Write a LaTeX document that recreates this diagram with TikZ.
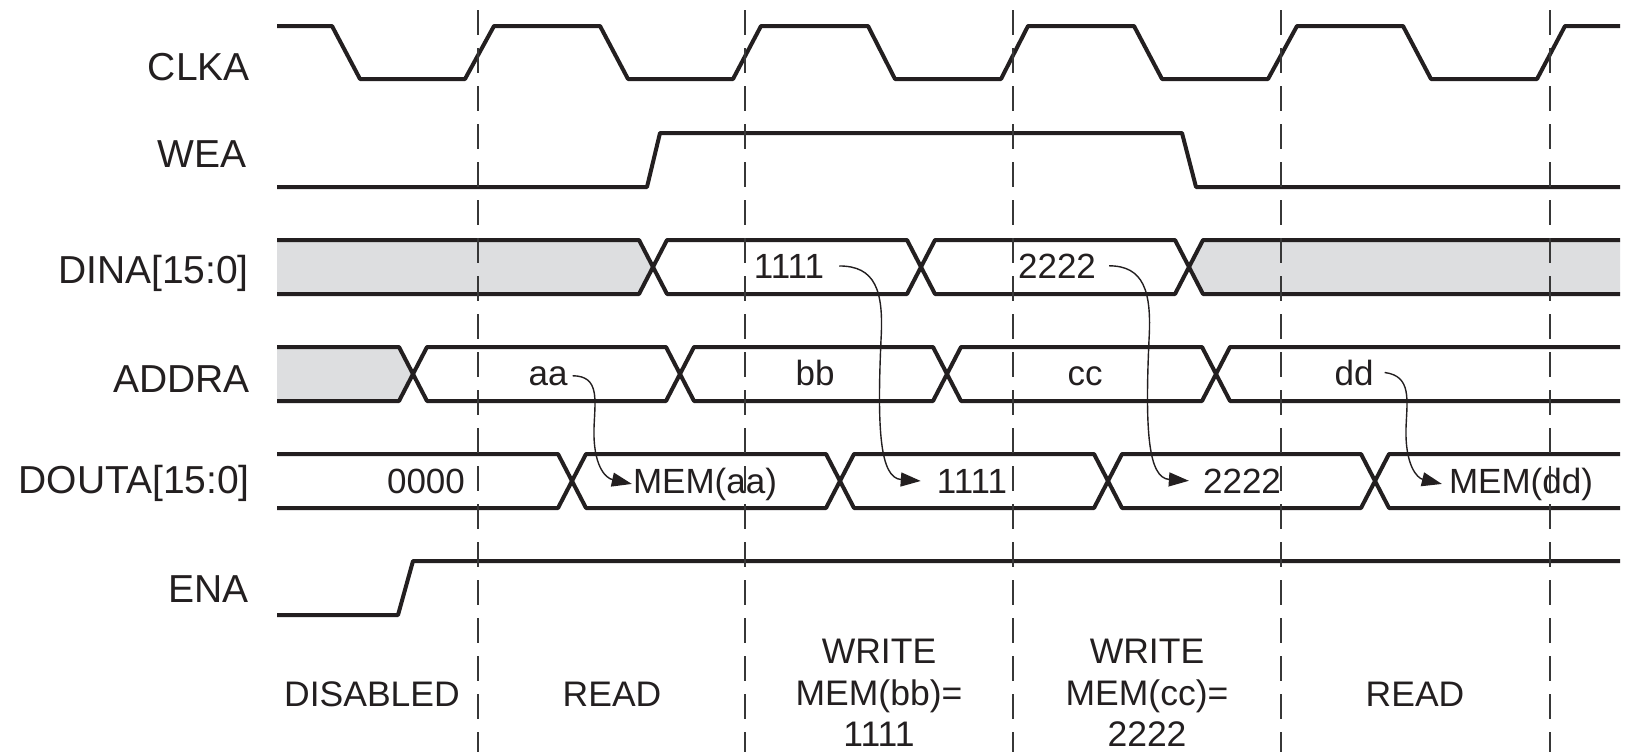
\documentclass[tikz,border=0pt]{standalone}
\usepackage{fontspec}
\setmainfont{Liberation Sans}
\usetikzlibrary{arrows.meta}
\definecolor{ink}{RGB}{35,31,32}
\definecolor{busgray}{RGB}{221,222,224}
\definecolor{dashc}{RGB}{55,55,55}
% full bus segment (hexagon)
\newcommand\bseg[5]{%
  \filldraw[sig, fill=#5] (#1,{(#3+#4)/2}) -- (#1+14,#3) -- (#2-14,#3) -- (#2,{(#3+#4)/2}) -- (#2-14,#4) -- (#1+14,#4) -- cycle;}
% bus segment open on the left
\newcommand\bsegL[5]{%
  \fill[#5] (#1,#3) -- (#2-14,#3) -- (#2,{(#3+#4)/2}) -- (#2-14,#4) -- (#1,#4) -- cycle;
  \draw[sig] (#1,#3) -- (#2-14,#3) -- (#2,{(#3+#4)/2}) -- (#2-14,#4) -- (#1,#4);}
% bus segment open on the right
\newcommand\bsegR[5]{%
  \fill[#5] (#2,#3) -- (#1+14,#3) -- (#1,{(#3+#4)/2}) -- (#1+14,#4) -- (#2,#4) -- cycle;
  \draw[sig] (#2,#3) -- (#1+14,#3) -- (#1,{(#3+#4)/2}) -- (#1+14,#4) -- (#2,#4);}
\begin{document}
\begin{tikzpicture}[x=1pt,y=-1pt,
  sig/.style={line width=4pt, draw=ink, line join=round},
  gridline/.style={line width=2.3pt, draw=dashc, dash pattern=on 25pt off 13pt},
  lbl/.style={font=\fontsize{39}{41}\selectfont, text=ink, anchor=base east, inner sep=0pt},
  val/.style={font=\fontsize{35}{37}\selectfont, text=ink, anchor=base, inner sep=0pt},
  phase/.style={font=\fontsize{35.5}{38}\selectfont, text=ink, anchor=base, inner sep=0pt},
  arr/.style={line width=1.4pt, draw=ink, -{Triangle[length=20pt,width=14pt]}},
]
\fill[white] (0,0) rectangle (1627,755);
\useasboundingbox (0,0) rectangle (1627,755);

% signal names
\node[lbl] (lclk) at (250,80) {CLKA};
\node[lbl] (lwea) at (247,167) {WEA};
\node[lbl] (ldin) at (249,283) {DINA[15:0]};
\node[lbl] (ladr) at (250,392) {ADDRA};
\node[lbl] (ldou) at (250,493) {DOUTA[15:0]};
\node[lbl] (lena) at (249,602) {ENA};

% CLKA
\draw[sig] (277,26) -- (332,26) -- (360,79) -- (465,79) -- (494,26) -- (600,26) -- (628,79)
  -- (733,79) -- (761,26) -- (868,26) -- (895,79) -- (1001,79) -- (1028,26) -- (1134,26)
  -- (1162,79) -- (1268,79) -- (1297,26) -- (1403,26) -- (1431,79) -- (1537,79) -- (1565,26) -- (1620,26);
% WEA
\draw[sig] (277,187) -- (647,187) -- (660,133) -- (1182,133) -- (1196,187) -- (1620,187);
% ENA
\draw[sig] (277,615) -- (398,615) -- (413,561) -- (1620,561);

% DINA
\bsegL{277}{653}{240}{294}{busgray}
\bseg{653}{921}{240}{294}{white}
\bseg{921}{1189}{240}{294}{white}
\bsegR{1189}{1620}{240}{294}{busgray}
% ADDRA
\bsegL{277}{413}{347}{401}{busgray}
\bseg{413}{680}{347}{401}{white}
\bseg{680}{947}{347}{401}{white}
\bseg{947}{1216}{347}{401}{white}
\bsegR{1216}{1620}{347}{401}{white}
% DOUTA
\bsegL{277}{572}{454}{508}{white}
\bseg{572}{840}{454}{508}{white}
\bseg{840}{1108}{454}{508}{white}
\bseg{1108}{1375}{454}{508}{white}
\bsegR{1375}{1620}{454}{508}{white}

% values
\node[val] (d1111) at (789,278) {1111};
\node[val] (d2222) at (1057,278) {2222};
\node[val] (aa) at (548,385) {aa};
\node[val] (bb) at (815,385) {bb};
\node[val] (cc) at (1085,385) {cc};
\node[val] (dd) at (1354,385) {dd};
\node[val] (o0000) at (426,493) {0000};
\node[val] (memaa) at (705,493) {MEM(aa)};
\node[val] (o1111) at (972,493) {1111};
\node[val] (o2222) at (1242,493) {2222};
\node[val] (memdd) at (1521,493) {MEM(dd)};

% causal arrows
\draw[arr] ([xshift=5pt]aa.east) .. controls (600,376) and (595,400) .. (594,428)
  .. controls (593,465) and (605,478) .. ([xshift=-1pt]memaa.west);
\draw[arr] ([xshift=15pt]d1111.east) .. controls (875,266) and (884,290) .. (881,340)
  .. controls (877,430) and (880,478) .. ([xshift=-16pt]o1111.west);
\draw[arr] ([xshift=13pt]d2222.east) .. controls (1143,266) and (1152,290) .. (1149,340)
  .. controls (1145,430) and (1148,478) .. ([xshift=-14pt]o2222.west);
\draw[arr] ([xshift=11pt]dd.east) .. controls (1412,376) and (1407,400) .. (1406,428)
  .. controls (1405,465) and (1417,478) .. ([xshift=-7pt]memdd.west);

% phase labels
\node[phase] (p1) at (372,706) {DISABLED};
\node[phase] (p2) at (612,706) {READ};
\node[phase] (p3a) at (879,663) {WRITE};
\node[phase] (p3b) at (879,705) {MEM(bb)=};
\node[phase] (p3c) at (879,746) {1111};
\node[phase] (p4a) at (1147,663) {WRITE};
\node[phase] (p4b) at (1147,705) {MEM(cc)=};
\node[phase] (p4c) at (1147,746) {2222};
\node[phase] (p5) at (1415,706) {READ};

% clock-edge guide lines
\foreach \x in {478,745,1013,1281,1550}
  \draw[gridline] (\x,10) -- (\x,752);
\end{tikzpicture}
\end{document}
